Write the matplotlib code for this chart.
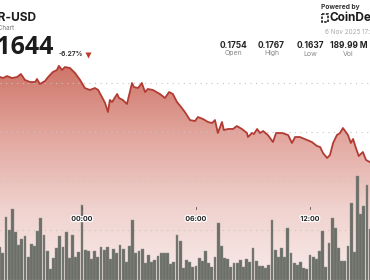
import numpy as np
import matplotlib
matplotlib.use("Agg")
import matplotlib.pyplot as plt
from matplotlib.colors import LinearSegmentedColormap
from matplotlib.patches import Polygon, Rectangle
import matplotlib.patheffects as pe

plt.rcParams['font.family'] = ['Inter', 'DejaVu Sans']

# price trace: minutes from 00:00 UTC (6 Nov) and price in USD
price_min = [-259, -249, -237, -221, -205, -193, -180, -164, -148, -142,
             -133, -117, -107, -92, -79, -73, -63, -54, -38, -22,
             -6, 9, 25, 41, 51, 63, 73, 82, 88, 95,
             111, 117, 129, 142, 158, 164, 177, 189, 199, 208,
             224, 246, 262, 275, 287, 300, 313, 325, 341, 357,
             366, 382, 398, 411, 420, 429, 442, 448, 461, 477,
             489, 505, 521, 524, 537, 543, 553, 562, 572, 587,
             603, 613, 632, 641, 651, 663, 673, 688, 711, 726,
             742, 752, 761, 774, 783, 793, 805, 815, 824, 831,
             840, 849, 856, 865, 874, 887, 897, 909, 922]
price_usd = [0.17561, 0.17551, 0.17571, 0.17551, 0.17561, 0.17592, 0.17531, 0.17510, 0.17510, 0.17541,
             0.17490, 0.17520, 0.17561, 0.17612, 0.17633, 0.17675, 0.17633, 0.17663, 0.17653, 0.17602,
             0.17531, 0.17449, 0.17429, 0.17449, 0.17429, 0.17357, 0.17296, 0.17204, 0.17327, 0.17306,
             0.17388, 0.17347, 0.17327, 0.17286, 0.17500, 0.17459, 0.17449, 0.17500, 0.17408, 0.17439,
             0.17429, 0.17388, 0.17347, 0.17408, 0.17388, 0.17306, 0.17255, 0.17204, 0.17122, 0.17112,
             0.17153, 0.17133, 0.17102, 0.17092, 0.17122, 0.16990, 0.17102, 0.17020, 0.17031, 0.17031,
             0.17061, 0.17031, 0.16990, 0.16949, 0.16990, 0.16980, 0.17031, 0.16990, 0.17010, 0.16969,
             0.16898, 0.16990, 0.16990, 0.16980, 0.16969, 0.16888, 0.16949, 0.16949, 0.16918, 0.16898,
             0.16857, 0.16847, 0.16786, 0.16735, 0.16765, 0.16888, 0.16969, 0.16990, 0.17041, 0.17010,
             0.16969, 0.16888, 0.16929, 0.16837, 0.16755, 0.16796, 0.16714, 0.16694, 0.16663]

# 10 minute volume bars, first one at 19:40 on 5 Nov
vol_start = -260
vol = [33, 27, 63, 50, 71, 48, 35, 41, 44, 23, 36, 34, 49, 62, 45, 29, 11, 22, 32, 44,
       33, 48, 22, 45, 23, 28, 75, 30, 29, 21, 29, 23, 33, 30, 33, 21, 31, 27, 35, 31,
       18, 34, 60, 27, 29, 31, 17, 25, 18, 20, 24, 27, 27, 27, 16, 18, 45, 39, 12,
       20, 18, 13, 14, 22, 19, 29, 17, 13, 23, 57, 34, 22, 21, 13, 17, 17, 20, 13, 21,
       18, 32, 19, 14, 14, 12, 15, 60, 30, 23, 32, 23, 52, 27, 17, 15, 18, 12, 11, 25,
       23, 21, 29, 49, 13, 37, 62, 52, 32, 19, 19, 34, 77, 28, 104, 66, 74, 95, 51]

time_ticks = [0, 360, 720]
time_labels = ["00:00", "06:00", "12:00"]

stat_vals = ["0.1754", "0.1767", "0.1637", "189.99 M"]
stat_names = ["Open", "High", "Low", "Vol"]

xlo, xhi = -258.9, 909.5
ylo, yhi = 0.1549, 0.18347

fig = plt.figure(figsize=(3.7, 2.8), dpi=100)
ax = fig.add_axes([0, 0, 1, 1])
ax.set_xlim(xlo, xhi)
ax.set_ylim(ylo, yhi)
ax.axis('off')

# gradient area under the price line
cmap = LinearSegmentedColormap.from_list('fade', ['#f8ebe9', '#f0d2ce', '#e2a79f', '#cf7467'])
verts = [(price_min[0], ylo)] + list(zip(price_min, price_usd)) + [(price_min[-1], ylo)]
poly = Polygon(verts, closed=True, facecolor='none', edgecolor='none')
ax.add_patch(poly)
grad = np.linspace(1, 0, 256).reshape(-1, 1)
im = ax.imshow(grad, extent=[xlo, xhi, ylo, max(price_usd)], aspect='auto',
               cmap=cmap, origin='upper', zorder=1)
im.set_clip_path(poly)

for g in [0.160, 0.165, 0.170, 0.175]:
    ax.axhline(g, color='#c9c4c3', lw=0.8, ls=(0, (1, 4)), zorder=2)

ax.plot(price_min, price_usd, color='#b23b33', lw=1.3, zorder=3)

# volume bars
ax2 = ax.twinx()
ax2.set_ylim(0, 280)
ax2.axis('off')
bar_t = [vol_start + 10 * i for i in range(len(vol))]
ax2.bar(bar_t, vol, width=8.8, color='#6c6f68', edgecolor='#8d8f89', lw=0.3)

# overlay in pixel coords for the texts
ov = fig.add_axes([0, 0, 1, 1])
ov.set_xlim(0, 370)
ov.set_ylim(280, 0)
ov.axis('off')

ov.text(36, 18, "HBAR-USD", ha='right', va='center', fontsize=8.6, fontweight='bold', color='#1c1c1c')
ov.text(14, 28, "Price Chart", ha='right', va='center', fontsize=4.5, color='#777777')
ov.text(53, 47.5, "0.1644", ha='right', va='center', fontsize=18, fontweight='bold', color='#1c1c1c',
        family=['Open Sans', 'DejaVu Sans'])
ov.text(59, 54, "-6.27%", ha='left', va='center', fontsize=4.8, fontweight='bold', color='#333333')
ov.plot([88], [54.5], marker='v', ms=4.5, color='#c0392b', mec='none')

for i, (v, n) in enumerate(zip(stat_vals, stat_names)):
    cx = [233.5, 271.5, 310, 348.5][i]
    ov.text(cx, 45, v, ha='center', va='center', fontsize=6, fontweight='bold', color='#222222')
    ov.text(cx, 53.5, n, ha='center', va='center', fontsize=5, color='#888888')

ov.text(321, 6.5, "Powered by", ha='left', va='center', fontsize=4.8, fontweight='bold', color='#333333')
ov.add_patch(Rectangle((321.5, 14), 6, 7.5, fill=False, ec='#222222', lw=1.2, ls=(0, (1.5, 0.8))))
ov.text(329, 18, "CoinDesk", ha='left', va='center', fontsize=8.5, fontweight='bold', color='#1c1c1c')
ov.text(325, 32.5, "6 Nov 2025 17:00 UTC", ha='left', va='center', fontsize=4.6, color='#aaaaaa')

for t, lab in zip(time_ticks, time_labels):
    px = (t - xlo) / (xhi - xlo) * 370
    ov.plot([px, px], [206.5, 209], color='#555555', lw=0.6)
    ov.text(px, 219, lab, ha='center', va='center', fontsize=5, fontweight='bold', color='#222222',
            path_effects=[pe.withStroke(linewidth=1.8, foreground='white')])

fig.savefig('out.png', dpi=100)
